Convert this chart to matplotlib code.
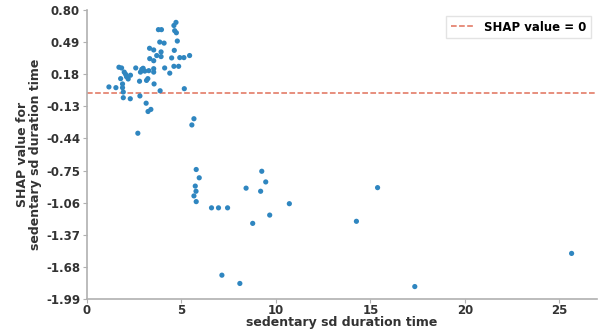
import numpy as np
import matplotlib
matplotlib.use("Agg")
import matplotlib.pyplot as plt

# sedentary sd duration time vs its SHAP value
sd_time = [1.16, 1.53, 1.69, 1.83, 1.78, 1.88, 1.88, 1.92, 1.92, 1.97,
           2.04, 2.09, 2.18, 2.30, 2.29, 2.58, 2.69, 2.78, 2.80, 2.83,
           2.90, 2.97, 3.06, 3.15, 3.22, 3.13, 3.23, 3.38, 3.27, 3.31,
           3.32, 3.53, 3.53, 3.53, 3.53, 3.55, 3.69, 3.78, 3.94, 3.85,
           4.08, 3.92, 3.92, 3.87, 4.11, 4.38, 4.48, 4.60, 4.62, 4.60,
           4.71, 4.64, 4.73, 4.78, 4.85, 4.91, 5.13, 5.15, 5.43, 5.55,
           5.66,
           5.78, 5.94, 5.73, 5.77, 5.66, 5.78, 6.59, 6.96, 7.44, 7.14,
           8.09, 8.42, 8.77, 9.25, 9.46, 9.19, 9.67, 10.71, 14.26, 15.38,
           17.35, 25.65]
shap_vals = [0.057, 0.05, 0.247, 0.24, 0.137, 0.086, 0.05, 0.008, -0.047, 0.20,
             0.18, 0.156, 0.134, 0.17, -0.057, 0.24, -0.39, 0.112, -0.03, 0.20,
             0.227, 0.237, 0.21, 0.12, 0.137, -0.10, -0.18, -0.16, 0.214, 0.43,
             0.33, 0.414, 0.31, 0.233, 0.20, 0.086, 0.36, 0.61, 0.61, 0.49,
             0.48, 0.395, 0.35, 0.02, 0.24, 0.19, 0.337, 0.256, 0.41, 0.65,
             0.68, 0.60, 0.58, 0.50, 0.256, 0.34, 0.34, 0.04, 0.36, -0.31,
             -0.25,
             -0.74, -0.82, -0.90, -0.95, -0.995, -1.05, -1.11, -1.11, -1.11, -1.76,
             -1.84, -0.92, -1.26, -0.757, -0.86, -0.95, -1.18, -1.07, -1.24, -0.915,
             -1.87, -1.55]

y_ticks = np.linspace(-1.99, 0.80, 10)

fig = plt.figure(figsize=(5.98, 3.32), dpi=100)
ax = fig.add_axes([0.1455, 0.0994, 0.853, 0.8706])

ax.scatter(sd_time, shap_vals, s=14, color="#2f86c0", edgecolors="none", zorder=3)
ax.axhline(0, color="#e0705a", linestyle="--", linewidth=1.1, label="SHAP value = 0")

ax.set_xlim(0, 27)
ax.set_ylim(-1.99, 0.80)
ax.set_yticks(y_ticks)
ax.set_yticklabels([f"{v:.2f}" for v in y_ticks])
ax.set_xticks([0, 5, 10, 15, 20, 25])

for s in ["top", "right"]:
    ax.spines[s].set_visible(False)
for s in ["left", "bottom"]:
    ax.spines[s].set_color("#b0b0b0")
    ax.spines[s].set_linewidth(1.2)

ax.tick_params(axis="both", colors="#b0b0b0", labelcolor="#333333",
               labelsize=8.5, length=3, width=0.8, pad=2)
ax.tick_params(axis="x", pad=0.5)
for lbl in ax.get_xticklabels() + ax.get_yticklabels():
    lbl.set_fontweight("bold")

ax.set_xlabel("sedentary sd duration time", fontsize=9, fontweight="bold",
              color="#333333", labelpad=-0.5)
ax.set_ylabel("SHAP value for\nsedentary sd duration time", fontsize=9,
              fontweight="bold", color="#333333", labelpad=3, linespacing=1.0)

leg = ax.legend(loc="upper right", prop={"weight": "bold", "size": 8.5},
                frameon=True, fancybox=False, handlelength=2)
leg.get_frame().set_edgecolor("#dddddd")

fig.savefig("out.png", dpi=100)
